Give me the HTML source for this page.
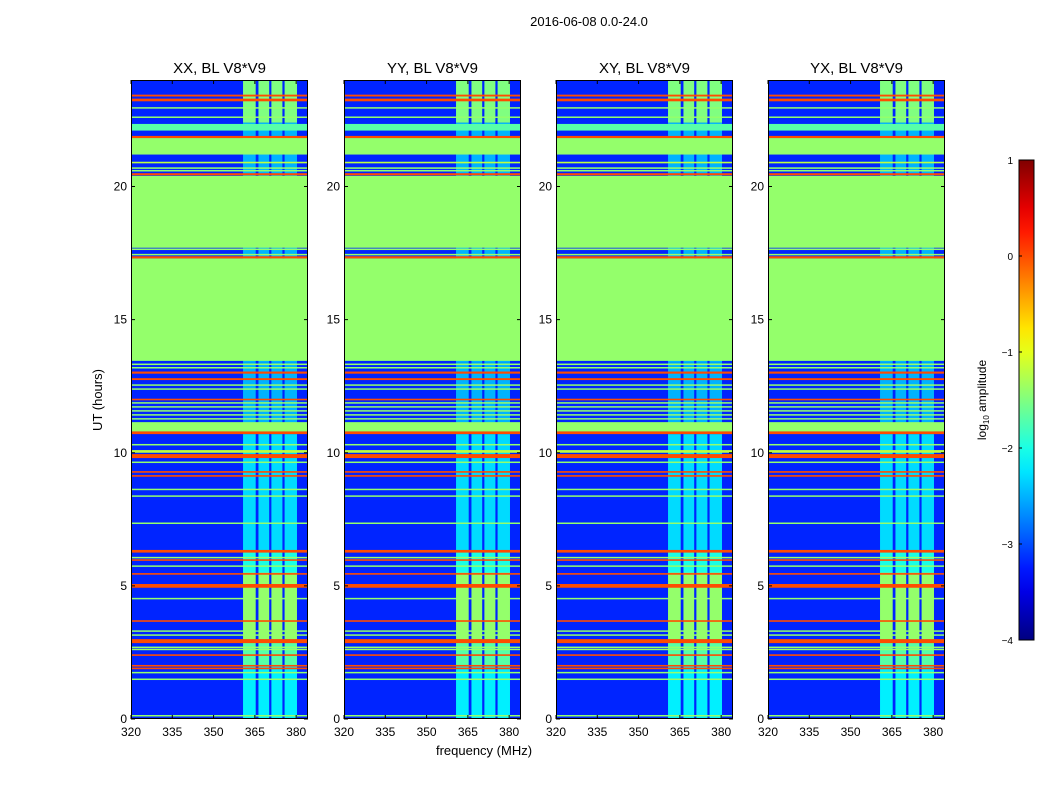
<!DOCTYPE html>
<html><head><meta charset="utf-8"><style>
body{margin:0;background:#fff;font-family:"Liberation Sans",sans-serif}
</style></head><body>
<svg id="fig" width="1050" height="800" xmlns="http://www.w3.org/2000/svg" font-family="Liberation Sans, sans-serif">
<rect width="1050" height="800" fill="#fff"/>
<text x="589" y="26" font-size="13" text-anchor="middle">2016-06-08 0.0-24.0</text>
<text transform="translate(102,400) rotate(-90)" font-size="13" text-anchor="middle">UT (hours)</text>
<text x="484" y="755" font-size="13" text-anchor="middle">frequency (MHz)</text>
<g id="panels"></g>
<g id="cbar"></g>
</svg>
<script>
const panelTitles=["XX, BL V8*V9","YY, BL V8*V9","XY, BL V8*V9","YX, BL V8*V9"];
const panelLeft=[131,344,556,768];
const xTicks=[320,335,350,365,380];
const yTicks=[0,5,10,15,20];
const baseLevel=-3.2;
const colStart=[360.7,366.3,371.0,375.8];
const colEnd=[365.3,370.2,375.0,380.3];
const actStart=[0,2.0,3.0,5.5,6.3,10.7,13.4,22.4];
const actEnd=[2.0,3.0,5.5,6.3,10.7,13.4,22.4,24];
const actLevel=[-2.2,-1.7,-1.4,-2.0,-2.3,-2.5,-2.5,-1.5];
const flagStart=[21.2,17.7,13.45,10.8, 23.2,23.38,21.82,20.42,17.3,12.97,12.73,11.97,10.7,9.8,9.25,9.1,6.25,5.94,5.42,4.93,3.65,2.85,2.37,1.97,1.87,
22.93,22.58,22.1,20.87,20.67,20.57,17.62,17.42,13.3,13.17,12.52,12.37,11.85,11.7,11.55,11.4,11.25,10.28,10.0,9.62,8.6,8.35,7.33,6.04,5.72,4.5,3.28,3.13,2.68,2.6,1.72,1.47,0.1];
const flagEnd=[21.82,20.4,17.3,11.15, 23.3,23.45,21.9,20.5,17.38,13.05,12.8,12.03,10.8,9.95,9.31,9.16,6.35,6.0,5.48,5.07,3.71,3.0,2.43,2.03,1.93,
22.98,22.63,22.35,20.93,20.72,20.62,17.67,17.47,13.35,13.22,12.57,12.42,11.9,11.75,11.6,11.45,11.3,10.33,10.1,9.67,8.65,8.4,7.38,6.09,5.77,4.55,3.33,3.18,2.72,2.64,1.77,1.52,0.15];
const flagLevel=[-1.4,-1.4,-1.4,-1.4, 0.0,0.0,0.0,0.0,0.0,0.0,0.0,0.0,0.0,0.0,0.0,0.0,0.0,0.0,0.0,0.0,0.0,0.0,0.0,0.0,0.0,
-1.4,-1.4,-1.7,-1.2,-1.4,-1.4,-1.4,-1.4,-1.4,-1.4,-1.4,-1.4,-1.4,-1.4,-1.4,-1.4,-1.4,-1.4,-1.2,-1.4,-1.4,-1.4,-1.4,-1.4,-1.4,-1.4,-1.4,-1.4,-1.4,-1.4,-1.4,-1.4,-1.4];
const cbTicks=[1,0,-1,-2,-3,-4];

const NS="http://www.w3.org/2000/svg";
const PW=177,TOP=80,BOT=719,FMIN=320,FMAX=384.3,VMIN=-4,VMAX=1;
function yS(t){return BOT-(t/24)*(BOT-TOP);}
function jet(v){let n=(v-VMIN)/(VMAX-VMIN);n=Math.max(0,Math.min(1,n));
 const c=x=>Math.round(255*Math.max(0,Math.min(1,x)));
 const r=Math.min(4*n-1.5,-4*n+4.5),g=Math.min(4*n-0.5,-4*n+3.5),b=Math.min(4*n+0.5,-4*n+2.5);
 return `rgb(${c(r)},${c(g)},${c(b)})`;}
function mk(tag,attrs,parent){const e=document.createElementNS(NS,tag);for(const k in attrs)e.setAttribute(k,attrs[k]);parent.appendChild(e);return e;}
const panels=document.getElementById('panels');
panelLeft.forEach((L,p)=>{
 const xS=f=>L+(f-FMIN)/(FMAX-FMIN)*PW;
 const g=mk('g',{},panels);
 
 
 const bg=mk('rect',{x:L,y:TOP,width:PW,height:BOT-TOP,fill:jet(baseLevel)},g);
 
 
 for(let i=0;i<actStart.length;i++){
  for(let j=0;j<colStart.length;j++){
   const r=mk('rect',{x:xS(colStart[j]),y:yS(actEnd[i]),width:xS(colEnd[j])-xS(colStart[j]),height:yS(actStart[i])-yS(actEnd[i]),fill:jet(actLevel[i])},g);
   
   
  }
 }
 for(let i=0;i<flagStart.length;i++){
  const r=mk('rect',{x:L,y:yS(flagEnd[i]),width:PW,height:Math.max(1.5,yS(flagStart[i])-yS(flagEnd[i])),fill:jet(flagLevel[i])},g);
  
  
 }
 const fr=mk('rect',{x:L+0.5,y:TOP+0.5,width:PW-1,height:BOT-TOP-1,fill:'none',stroke:'#000','stroke-width':1},g);
 
 
 const tt=mk('text',{x:L+PW/2,y:73,'font-size':15,'text-anchor':'middle'},g);tt.textContent=panelTitles[p];
 
 
 xTicks.forEach(f=>{const x=xS(f);
  mk('line',{x1:x,x2:x,y1:BOT,y2:BOT-4,stroke:'#000'},g);mk('line',{x1:x,x2:x,y1:TOP,y2:TOP+4,stroke:'#000'},g);
  const t=mk('text',{x:x,y:736,'font-size':12,'text-anchor':'middle'},g);t.textContent=f;
  
  });
 yTicks.forEach(v=>{const y=yS(v);
  mk('line',{x1:L,x2:L+4,y1:y,y2:y,stroke:'#000'},g);mk('line',{x1:L+PW,x2:L+PW-4,y1:y,y2:y,stroke:'#000'},g);
  const t=mk('text',{x:L-4,y:y+4,'font-size':12,'text-anchor':'end'},g);t.textContent=v;
  
  });
});
// colorbar
const cb=document.getElementById('cbar');
const CBX=1019,CBW=15,CBT=160,CBB=640;
const defs=mk('defs',{},cb);const lg=mk('linearGradient',{id:'jetg',x1:0,y1:1,x2:0,y2:0},defs);
for(let i=0;i<=20;i++){mk('stop',{offset:i/20,'stop-color':jet(VMIN+(VMAX-VMIN)*i/20)},lg);}
const cr=mk('rect',{x:CBX,y:CBT,width:CBW,height:CBB-CBT,fill:'url(#jetg)',stroke:'#000'},cb);


cbTicks.forEach(v=>{const y=CBB-(v-VMIN)/(VMAX-VMIN)*(CBB-CBT);
 mk('line',{x1:CBX,x2:CBX+3,y1:y,y2:y,stroke:'#000'},cb);
 const t=mk('text',{x:CBX-6,y:y+4,'font-size':10,'text-anchor':'end'},cb);t.textContent=(v<0?'\u2212'+(-v):v);
 
 });
const cl=mk('text',{transform:'translate(986,400) rotate(-90)','font-size':12,'text-anchor':'middle'},cb);
cl.innerHTML='log<tspan font-size="8" dy="3">10</tspan><tspan dy="-3"> amplitude</tspan>';


</script>
</body></html>
